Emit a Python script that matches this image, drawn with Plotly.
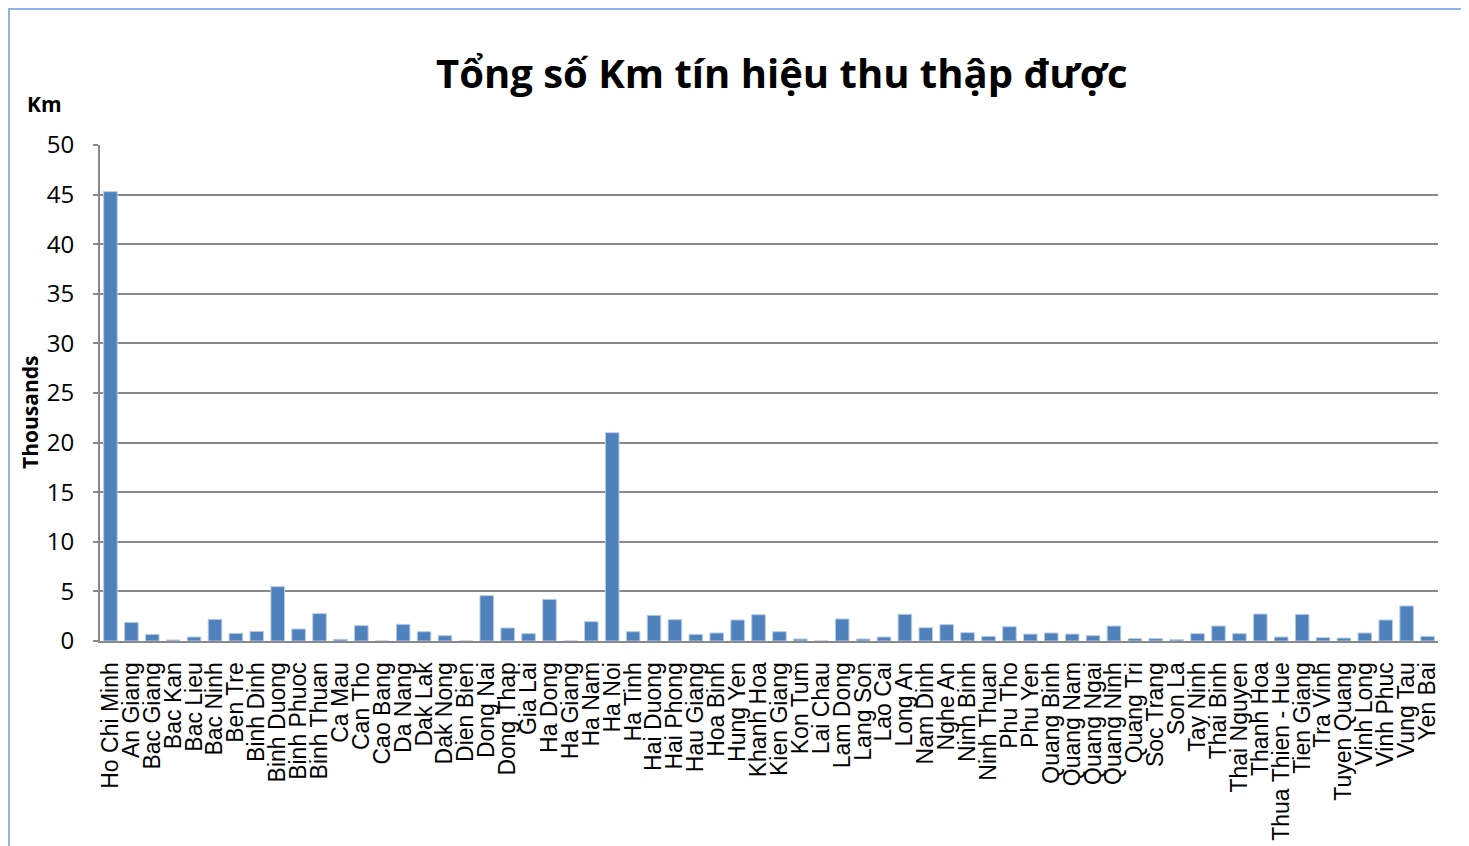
import plotly.graph_objects as go

provinces = ["Ho Chi Minh", "An Giang", "Bac Giang", "Bac Kan", "Bac Lieu", "Bac Ninh", "Ben Tre",
             "Binh Dinh", "Binh Duong", "Binh Phuoc", "Binh Thuan", "Ca Mau", "Can Tho", "Cao Bang",
             "Da Nang", "Dak Lak", "Dak Nong", "Dien Bien", "Dong Nai", "Dong Thap", "Gia Lai",
             "Ha Dong", "Ha Giang", "Ha Nam", "Ha Noi", "Ha Tinh", "Hai Duong", "Hai Phong",
             "Hau Giang", "Hoa Binh", "Hung Yen", "Khanh Hoa", "Kien Giang", "Kon Tum", "Lai Chau",
             "Lam Dong", "Lang Son", "Lao Cai", "Long An", "Nam Dinh", "Nghe An", "Ninh Binh",
             "Ninh Thuan", "Phu Tho", "Phu Yen", "Quang Binh", "Quang Nam", "Quang Ngai",
             "Quang Ninh", "Quang Tri", "Soc Trang", "Son La", "Tay Ninh", "Thai Binh",
             "Thai Nguyen", "Thanh Hoa", "Thua Thien - Hue", "Tien Giang", "Tra Vinh",
             "Tuyen Quang", "Vinh Long", "Vinh Phuc", "Vung Tau", "Yen Bai"]

km_thousands = [45.3, 1.88, 0.67, 0.10, 0.40, 2.18, 0.77,
                0.97, 5.48, 1.21, 2.76, 0.17, 1.55, 0.0,
                1.68, 0.94, 0.54, 0.0, 4.57, 1.31, 0.74,
                4.20, 0.0, 1.95, 21.0, 0.94, 2.59, 2.15,
                0.67, 0.81, 2.12, 2.65, 0.94, 0.20, 0.0,
                2.22, 0.20, 0.40, 2.69, 1.34, 1.65, 0.84,
                0.47, 1.44, 0.70, 0.81, 0.70, 0.54,
                1.51, 0.24, 0.24, 0.13, 0.74, 1.51,
                0.74, 2.72, 0.40, 2.69, 0.34,
                0.30, 0.81, 2.12, 3.53, 0.47]

y_ticks = [0, 5, 10, 15, 20, 25, 30, 35, 40, 45, 50]

title_text = "Tổng số Km tín hiệu thu thập được"
unit_text = "Km"
axis_title_text = "Thousands"

fig = go.Figure()
fig.add_trace(go.Bar(
    x=provinces, y=km_thousands,
    marker=dict(color="#4f81bd", line=dict(color="#b9cde5", width=1)),
    hovertemplate="%{x}: %{y}<extra></extra>",
))

# page offset (body margin) compensation
OFF = 8
W, H = 1469, 846
plot_left, plot_right, plot_top, plot_bottom = 100, 1438, 145, 641
L = plot_left - OFF
R = W - (plot_right - OFF)
T = plot_top - OFF
B = H - (plot_bottom - OFF)
pw, ph = W - L - R, H - T - B

def px_x(px):
    return (px - OFF - L) / pw

def px_y(py):
    return (H - B - (py - OFF)) / ph

fig.update_layout(
    width=W, height=H,
    margin=dict(l=L, r=R, t=T, b=B),
    paper_bgcolor="white", plot_bgcolor="white",
    bargap=0.35, showlegend=False,
    font=dict(family="Liberation Sans, Arial, sans-serif", color="black"),
    xaxis=dict(
        type="category", tickmode="linear", tick0=0, dtick=1,
        tickangle=-90, tickfont=dict(size=23, family="Liberation Sans, Arial"),
        ticklabelstandoff=10,
        showline=True, linecolor="#898989", linewidth=2, showgrid=False,
        ticks="", automargin=False,
    ),
    yaxis=dict(
        range=[0, 50], tickvals=y_ticks, ticktext=[str(v) for v in y_ticks],
        tickfont=dict(size=24, family="Open Sans, Liberation Sans"),
        ticklabelstandoff=14,
        showline=True, linecolor="#898989", linewidth=2,
        showgrid=True, gridcolor="#898989", gridwidth=2,
        ticks="outside", ticklen=5, tickcolor="#898989", tickwidth=2,
        zeroline=False, automargin=False,
    ),
    annotations=[
        dict(text="<b>%s</b>" % title_text, xref="paper", yref="paper",
             x=px_x(782), y=px_y(73), xanchor="center", yanchor="middle", showarrow=False,
             font=dict(size=40, family="Open Sans, Noto Sans", color="black")),
        dict(text="<b>%s</b>" % unit_text, xref="paper", yref="paper",
             x=px_x(25), y=px_y(104), xanchor="left", yanchor="middle", showarrow=False,
             font=dict(size=21, family="Open Sans, Noto Sans", color="black")),
        dict(text="<b>%s</b>" % axis_title_text, xref="paper", yref="paper",
             x=px_x(30), y=px_y(413), xanchor="center", yanchor="middle", showarrow=False,
             textangle=-90,
             font=dict(size=21, family="Open Sans, Noto Sans", color="black")),
    ],
    shapes=[
        dict(type="rect", xref="paper", yref="paper",
             x0=px_x(9), x1=px_x(1463), y0=px_y(860), y1=px_y(9),
             line=dict(color="#8eb4e3", width=2), fillcolor="rgba(0,0,0,0)", layer="below"),
    ],
)

fig.write_html("out.html")
